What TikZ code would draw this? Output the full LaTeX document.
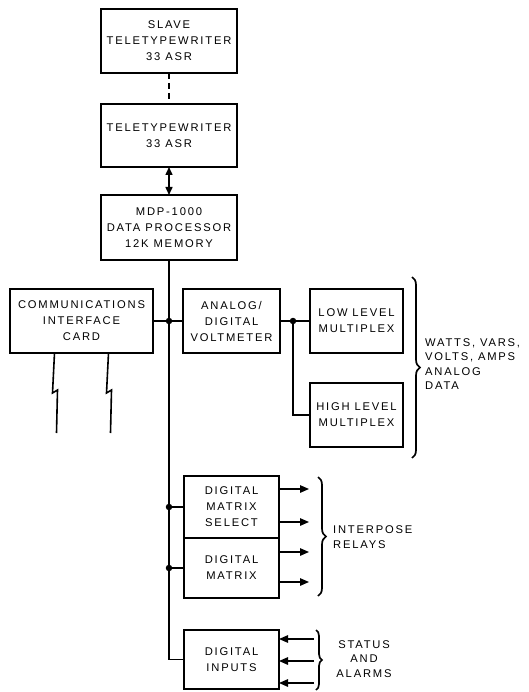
\documentclass[tikz,border=0pt]{standalone}
\usepackage{fontspec}
\usepackage{tikz}
\usetikzlibrary{arrows.meta, positioning, decorations.pathreplacing}
\newfontfamily\diagfont[LetterSpace=16]{Liberation Sans}

\begin{document}
\begin{tikzpicture}[
  x=1pt, y=-1pt,
  node distance=30pt,
  box/.style={rectangle, draw, line width=1.6pt, outer sep=0pt, align=center,
              inner sep=2pt, minimum height=64pt,
              font=\diagfont\fontsize{11.2}{16}\selectfont},
  lbl/.style={inner sep=0pt, font=\diagfont\fontsize{11.2}{14.5}\selectfont},
  bus/.style={line width=1.3pt},
  arr/.style={-{Triangle[length=9pt, width=7.5pt]}, line width=1.3pt},
  darr/.style={{Triangle[length=8pt, width=7pt]}-{Triangle[length=8pt, width=7pt]}, line width=1.5pt},
  dot/.style={circle, fill, inner sep=0pt, minimum size=6.5pt},
  brc/.style={decorate, decoration={brace, amplitude=8pt}, line width=1.7pt},
  bolt/.style={line width=1.6pt, line join=miter},
]
  \useasboundingbox (0,0) rectangle (528,692);

  % teletypes and processor
  \node[box, minimum width=136pt] (slave) at (169,41) {SLAVE\\TELETYPEWRITER\\33 ASR};
  \node[box, minimum width=136pt, minimum height=63pt, below=31pt of slave] (tty) {TELETYPEWRITER\\33 ASR};
  \node[box, minimum width=136pt, minimum height=65pt, below=28pt of tty] (mdp) {MDP-1000\\DATA PROCESSOR\\12K MEMORY};
  \draw[bus, dash pattern=on 6pt off 4pt] (slave) -- (tty);
  \draw[darr] (tty) -- (mdp);

  % analog side
  \node[box, minimum width=143pt] (comm) at (81.5,321) {COMMUNICATIONS\\INTERFACE\\CARD};
  \node[box, minimum width=97pt] (adv) at (231.5,321) {ANALOG/\\DIGITAL\\VOLTMETER};
  \node[box, minimum width=93pt, right=30pt of adv] (low) {LOW LEVEL\\MULTIPLEX};
  \node[box, minimum width=93pt, below=30pt of low] (high) {HIGH LEVEL\\MULTIPLEX};

  % digital side
  \node[box, minimum width=95pt, minimum height=62pt] (dms) at (231.5,507) {DIGITAL\\MATRIX\\SELECT};
  \node[box, minimum width=95pt, minimum height=60pt, below=0pt of dms] (dm) {DIGITAL\\MATRIX};
  \node[box, minimum width=95pt, minimum height=59pt, below=32pt of dm] (di) {DIGITAL\\INPUTS};

  % bus
  \draw[bus] (mdp.south) -- (mdp.south |- di.west) -- (di.west);
  \draw[bus] (comm.east) -- (adv.west);
  \node[dot] (j1) at (mdp.south |- adv.west) {};
  \node[dot] (j2) at (mdp.south |- dms.west) {};
  \node[dot] (j3) at (mdp.south |- dm.west) {};
  \draw[bus] (j2) -- (dms.west);
  \draw[bus] (j3) -- (dm.west);
  \node[dot] (j4) at (293,321) {};
  \draw[bus] (adv.east) -- (low.west);
  \draw[bus] (j4) |- (high.west);

  % radio links
  \draw[bolt] ([xshift=-27pt]comm.south) -- ++(-2,40) -- ++(5,-3) -- ++(-1,43) coordinate (bolt1);
  \draw[bolt] ([xshift=27pt]comm.south) -- ++(-2,40) -- ++(5,-3) -- ++(-1,43) coordinate (bolt2);

  % analog data
  \coordinate (ab1) at (412,277);
  \coordinate (ab2) at (412,458);
  \draw[brc] (ab1) -- (ab2);
  \node[lbl, anchor=west, align=left] (analog) at (425,364) {WATTS, VARS,\\VOLTS, AMPS\\ANALOG\\DATA};

  % interpose relays
  \coordinate (ir1) at (309,489);
  \coordinate (ir2) at (309,522);
  \coordinate (ir3) at (309,552);
  \coordinate (ir4) at (309,582);
  \draw[arr] (dms.east |- ir1) -- (ir1);
  \draw[arr] (dms.east |- ir2) -- (ir2);
  \draw[arr] (dm.east |- ir3) -- (ir3);
  \draw[arr] (dm.east |- ir4) -- (ir4);
  \coordinate (rb1) at (318,477);
  \coordinate (rb2) at (318,596);
  \draw[brc] (rb1) -- (rb2);
  \node[lbl, anchor=west, align=left] (relays) at (333,537) {INTERPOSE\\RELAYS};

  % status and alarms
  \coordinate (sa1) at (314,639);
  \coordinate (sa2) at (314,661);
  \coordinate (sa3) at (314,683);
  \draw[arr] (sa1) -- (di.east |- sa1);
  \draw[arr] (sa2) -- (di.east |- sa2);
  \draw[arr] (sa3) -- (di.east |- sa3);
  \coordinate (sb1) at (316,630);
  \coordinate (sb2) at (316,690);
  \draw[brc, decoration={brace, amplitude=6pt}] (sb1) -- (sb2);
  \node[lbl, align=center] (status) at (364,659) {STATUS\\AND\\ALARMS};
\end{tikzpicture}
\end{document}
